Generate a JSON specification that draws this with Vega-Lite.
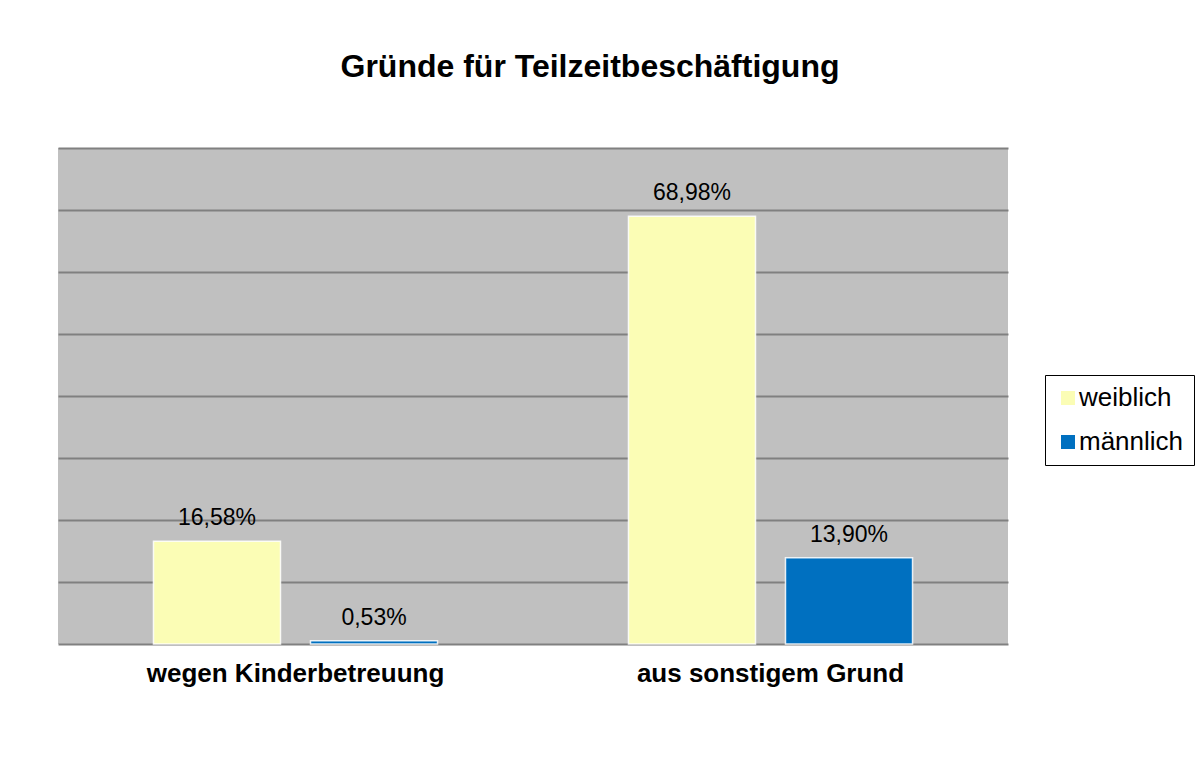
{
  "$schema": "https://vega.github.io/schema/vega-lite/v6.json",
  "autosize": "none",
  "padding": {"left": 58, "top": 148, "right": 195, "bottom": 119},
  "width": 950,
  "height": 496,
  "background": "#ffffff",
  "title": {
    "text": "Gründe für Teilzeitbeschäftigung",
    "anchor": "middle",
    "frame": "group",
    "dx": 57,
    "offset": 39,
    "baseline": "alphabetic",
    "font": "Liberation Sans",
    "fontSize": 32,
    "fontWeight": "bold",
    "color": "#000000"
  },
  "data": {
    "values": [
      {"Grund": "wegen Kinderbetreuung", "Geschlecht": "weiblich", "Anteil": 0.1658},
      {"Grund": "wegen Kinderbetreuung", "Geschlecht": "männlich", "Anteil": 0.0053},
      {"Grund": "aus sonstigem Grund", "Geschlecht": "weiblich", "Anteil": 0.6898},
      {"Grund": "aus sonstigem Grund", "Geschlecht": "männlich", "Anteil": 0.139}
    ]
  },
  "encoding": {
    "x": {
      "field": "Grund",
      "type": "nominal",
      "sort": ["wegen Kinderbetreuung", "aus sonstigem Grund"],
      "scale": {"paddingInner": 0, "paddingOuter": 0},
      "axis": {
        "title": null,
        "labelAngle": 0,
        "domain": false,
        "ticks": false,
        "labelLimit": 0,
        "labelFont": "Liberation Sans",
        "labelFontSize": 26,
        "labelFontWeight": "bold",
        "labelColor": "#000000",
        "labelPadding": 16
      }
    },
    "xOffset": {
      "field": "Geschlecht",
      "type": "nominal",
      "sort": ["weiblich", "männlich"],
      "scale": {"paddingInner": 0.191, "paddingOuter": 0.608}
    },
    "y": {
      "field": "Anteil",
      "type": "quantitative",
      "scale": {"domain": [0, 0.8], "nice": false},
      "axis": {
        "title": null,
        "labels": false,
        "ticks": false,
        "domain": false,
        "values": [0, 0.1, 0.2, 0.3, 0.4, 0.5, 0.6, 0.7, 0.8],
        "grid": true,
        "gridColor": "#808080",
        "gridWidth": 2,
        "gridOpacity": 1
      }
    }
  },
  "layer": [
    {
      "mark": {"type": "bar", "stroke": "#ffffff", "strokeWidth": 1.5, "strokeOpacity": 0.85},
      "encoding": {
        "color": {
          "field": "Geschlecht",
          "type": "nominal",
          "sort": ["weiblich", "männlich"],
          "scale": {"domain": ["weiblich", "männlich"], "range": ["#FBFDB5", "#0070C0"]},
          "legend": {
            "title": null,
            "orient": "none",
            "legendX": 987,
            "legendY": 227,
            "direction": "vertical",
            "symbolType": "square",
            "symbolSize": 196,
            "symbolStrokeWidth": 0,
            "labelFont": "Liberation Sans",
            "labelFontSize": 26,
            "labelColor": "#000000",
            "labelOffset": -2,
            "rowPadding": 18,
            "padding": 10,
            "strokeColor": "#000000",
            "fillColor": "#ffffff"
          }
        }
      }
    },
    {
      "mark": {
        "type": "text",
        "baseline": "alphabetic",
        "dy": -16,
        "font": "Liberation Sans",
        "fontSize": 23,
        "color": "#000000"
      },
      "encoding": {
        "text": {"field": "Anteil", "type": "quantitative", "format": ".2%"}
      }
    }
  ],
  "config": {
    "locale": {
      "number": {"decimal": ",", "thousands": ".", "grouping": [3], "currency": ["", " €"]}
    },
    "view": {"fill": "#C0C0C0", "stroke": null}
  }
}
